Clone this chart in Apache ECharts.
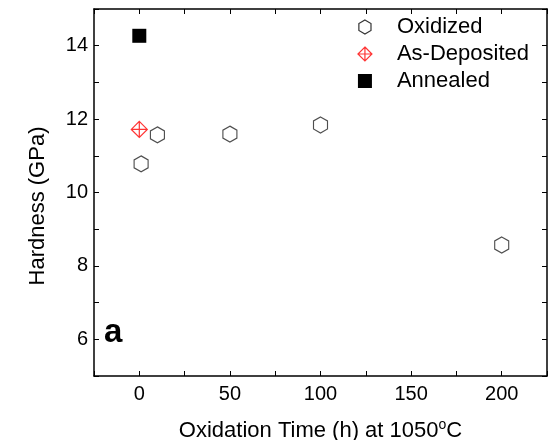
<!DOCTYPE html>
<html><head><meta charset="utf-8">
<script src="https://cdn.jsdelivr.net/npm/echarts@6/dist/echarts.min.js"></script>
<style>html,body{margin:0;padding:0;background:#fff}#c{width:549px;height:440px}</style>
</head><body><div id="c"></div>
<script>
const oxidizedTime = [1, 10, 50, 100, 200];
const oxidizedHardness = [10.78, 11.57, 11.59, 11.84, 8.57];
const asDepositedTime = [0];
const asDepositedHardness = [11.72];
const annealedTime = [0];
const annealedHardness = [14.27];
const xTicks = [0, 50, 100, 150, 200];
const yTicks = [6, 8, 10, 12, 14];

const HEX = 'path://M0,-1L0.866,-0.5L0.866,0.5L0,1L-0.866,0.5L-0.866,-0.5Z';
const DIAM = 'path://M0,-1L1,0L0,1L-1,0ZM0,-1L0,1M-1,0L1,0';
const FONT = 'Liberation Sans, Arial, sans-serif';

const pairs = (xs, ys) => xs.map((x, i) => [x, ys[i]]);

const chart = echarts.init(document.getElementById('c'), null, {renderer: 'canvas'});
const axisBase = {
  axisLine: {show: true, onZero: false, lineStyle: {color: '#000', width: 1.5}},
  splitLine: {show: false}
};
const tick = {show: true, inside: true, length: 5, lineStyle: {color: '#000', width: 1}};
chart.setOption({
  animation: false,
  backgroundColor: '#fff',
  grid: {left: 94, right: 2, top: 9, bottom: 64, containLabel: false, outerBoundsMode: 'none'},
  xAxis: [
    Object.assign({}, axisBase, {
      type: 'value', min: -25, max: 225, interval: 25, position: 'bottom',
      name: 'Oxidation Time (h) at 1050{sup|o}C', nameLocation: 'middle', nameGap: 42,
      nameTextStyle: {fontFamily: FONT, fontSize: 22, color: '#000',
        rich: {sup: {fontSize: 14, verticalAlign: 'top', padding: [0, 0, 12, 0], fontFamily: FONT, color: '#000'}}},
      axisTick: tick,
      axisLabel: {fontFamily: FONT, fontSize: 20, color: '#000', margin: 8,
        formatter: v => xTicks.includes(v) ? String(v) : ''}
    }),
    Object.assign({}, axisBase, {
      type: 'value', min: -25, max: 225, interval: 25, position: 'top',
      axisTick: tick,
      axisLabel: {show: false}
    })
  ],
  yAxis: [
    Object.assign({}, axisBase, {
      type: 'value', min: 5, max: 15, interval: 1, position: 'left',
      axisTick: tick,
      axisLabel: {fontFamily: FONT, fontSize: 20, color: '#000', margin: 6,
        formatter: v => yTicks.includes(v) ? String(v) : ''}
    }),
    Object.assign({}, axisBase, {
      type: 'value', min: 5, max: 15, interval: 1, position: 'right',
      axisTick: tick,
      axisLabel: {show: false}
    })
  ],
  legend: {
    right: 15, top: 11, orient: 'vertical', itemGap: 5,
    itemWidth: 14, itemHeight: 14,
    textStyle: {fontFamily: FONT, fontSize: 22, color: '#000', padding: [0, 0, 0, 20]},
    data: [
      {name: 'Oxidized', icon: HEX, itemStyle: {color: '#fff', borderColor: '#000', borderWidth: 1.2}},
      {name: 'As-Deposited', icon: DIAM, itemStyle: {color: 'rgba(0,0,0,0)', borderColor: '#ff0000', borderWidth: 1.2}},
      {name: 'Annealed', icon: 'rect', itemStyle: {color: '#000', borderWidth: 0}}
    ]
  },
  graphic: [
    {type: 'text', left: 104, top: 316,
      style: {text: 'a', font: 'bold 33px ' + FONT, fill: '#000'}},
    {type: 'text', x: 38, y: 206, rotation: Math.PI / 2,
      style: {text: 'Hardness (GPa)', font: '22px ' + FONT, fill: '#000', align: 'center', verticalAlign: 'middle'}}
  ],
  series: [
    {name: 'Oxidized', type: 'scatter', symbol: HEX, symbolSize: [14, 16],
      itemStyle: {color: '#fff', borderColor: '#222', borderWidth: 1.2},
      data: pairs(oxidizedTime, oxidizedHardness)},
    {name: 'As-Deposited', type: 'scatter', symbol: DIAM, symbolSize: [16, 16],
      itemStyle: {color: 'rgba(0,0,0,0)', borderColor: '#ff0000', borderWidth: 1.2},
      data: pairs(asDepositedTime, asDepositedHardness)},
    {name: 'Annealed', type: 'scatter', symbol: 'rect', symbolSize: 14,
      itemStyle: {color: '#000', opacity: 1},
      data: pairs(annealedTime, annealedHardness)}
  ]
});
</script></body></html>
